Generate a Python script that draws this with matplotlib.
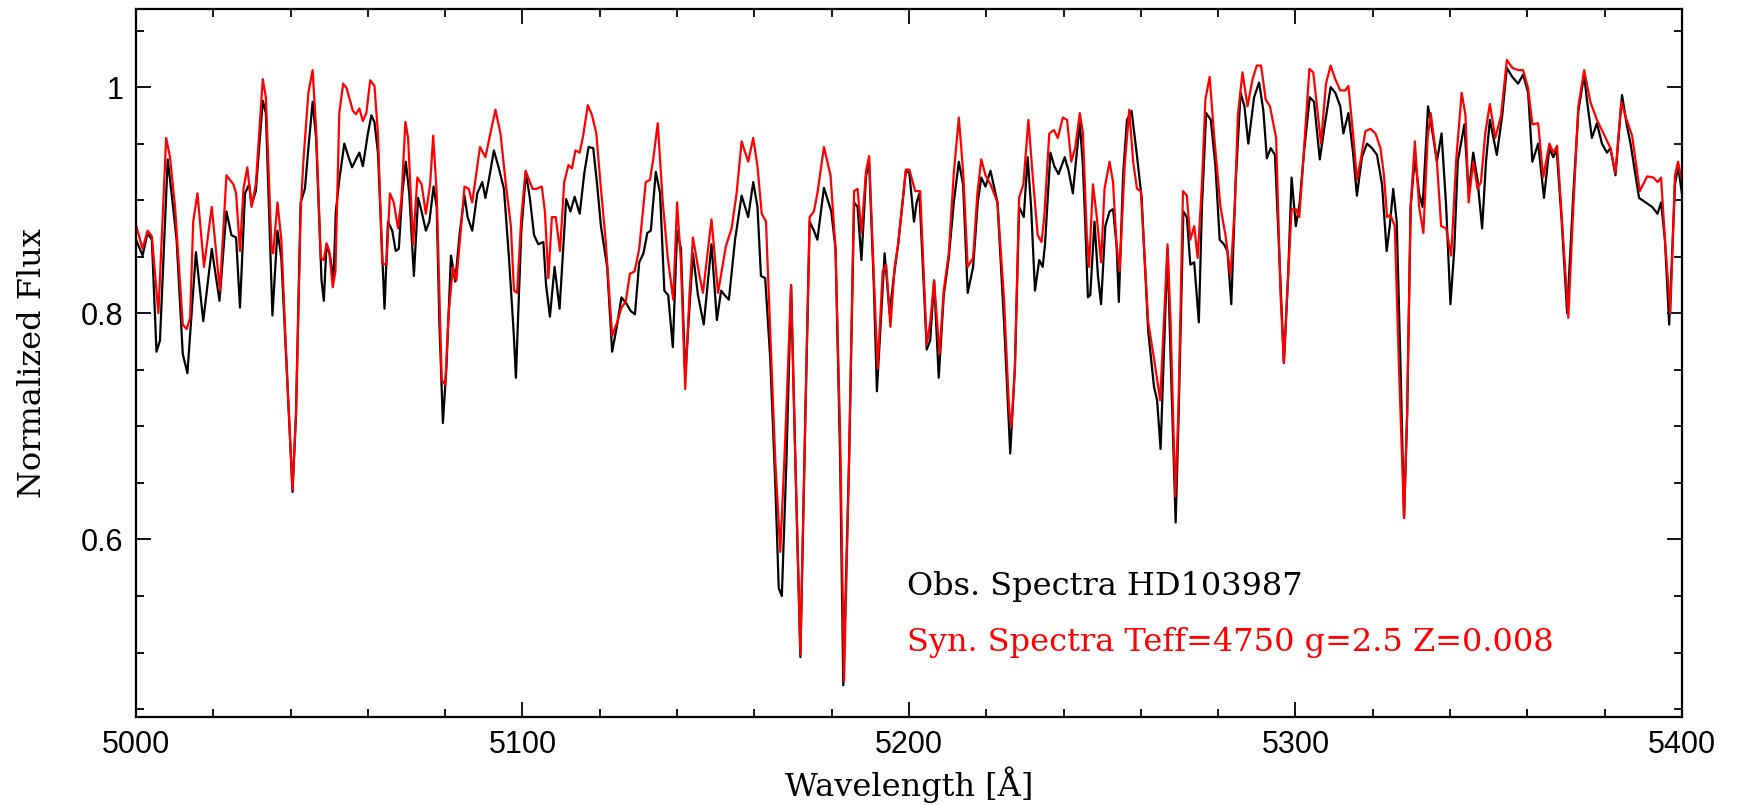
import numpy as np
import matplotlib
matplotlib.use("Agg")
from matplotlib import pyplot as plt
from matplotlib.ticker import MultipleLocator, FuncFormatter

obs_wave = [5000.0, 5001.7, 5003.0, 5004.1, 5005.3, 5006.2, 5008.2, 5009.2, 5010.5, 5012.1,
            5013.3, 5014.4, 5015.5, 5017.4, 5019.6, 5021.6, 5023.4, 5024.7, 5025.9, 5026.9,
            5028.2, 5029.3, 5029.9, 5031.0, 5032.8, 5033.6, 5035.3, 5036.6, 5037.6, 5039.0,
            5040.5, 5041.4, 5042.6, 5043.7, 5044.6, 5045.7, 5046.6, 5048.0, 5048.6, 5049.3,
            5050.2, 5051.1, 5051.7, 5052.6, 5053.9, 5055.0, 5055.9, 5056.9, 5057.8, 5058.7,
            5060.0, 5060.9, 5061.7, 5062.6, 5064.3, 5065.2, 5066.3, 5067.2, 5068.0, 5068.9,
            5069.8, 5070.7, 5071.9, 5073.0, 5073.9, 5075.0, 5075.9, 5077.0, 5077.8, 5078.5,
            5079.4, 5080.3, 5081.5, 5082.6, 5083.7, 5085.0, 5085.8, 5087.0, 5088.3, 5089.6,
            5090.4, 5091.3, 5092.6, 5093.9, 5095.2, 5096.5, 5097.7, 5098.3, 5098.9, 5099.7,
            5100.9, 5101.9, 5103.0, 5104.1, 5105.4, 5106.1, 5107.1, 5108.3, 5109.6, 5110.6,
            5111.3, 5112.4, 5113.5, 5114.8, 5116.0, 5117.1, 5118.3, 5119.3, 5120.3, 5121.9,
            5123.2, 5124.4, 5125.6, 5127.0, 5128.0, 5129.1, 5130.2, 5131.3, 5132.3, 5133.2,
            5134.5, 5135.6, 5136.7, 5137.7, 5138.9, 5140.0, 5141.0, 5142.1, 5144.1, 5145.4,
            5146.9, 5148.9, 5150.3, 5151.4, 5152.3, 5153.4, 5155.0, 5156.7, 5158.4, 5159.7,
            5160.8, 5161.7, 5162.8, 5164.1, 5165.4, 5166.3, 5167.1, 5168.3, 5169.5, 5170.6,
            5171.9, 5173.2, 5174.3, 5175.4, 5176.3, 5178.0, 5179.9, 5181.0, 5182.2, 5183.0,
            5184.5, 5185.8, 5186.7, 5187.7, 5188.9, 5189.7, 5190.9, 5191.7, 5192.7, 5193.7,
            5195.0, 5196.1, 5197.2, 5199.2, 5200.1, 5201.3, 5202.0, 5202.7, 5204.6, 5205.5,
            5206.5, 5207.7, 5209.0, 5210.3, 5211.6, 5212.9, 5214.0, 5215.2, 5216.6, 5217.8,
            5218.7, 5219.8, 5221.1, 5222.9, 5224.6, 5226.2, 5227.4, 5228.5, 5229.7, 5230.7,
            5231.6, 5232.6, 5233.7, 5234.6, 5235.2, 5236.6, 5237.6, 5238.7, 5240.3, 5241.3,
            5242.4, 5243.3, 5244.2, 5245.0, 5245.6, 5246.3, 5246.9, 5248.0, 5248.9, 5249.7,
            5250.8, 5251.9, 5252.8, 5253.7, 5254.3, 5255.4, 5256.4, 5257.6, 5258.9, 5260.2,
            5261.9, 5263.4, 5264.2, 5265.1, 5266.9, 5267.7, 5269.0, 5269.7, 5271.0, 5271.9,
            5272.8, 5273.8, 5275.0, 5275.8, 5276.9, 5278.1, 5279.3, 5280.4, 5281.5, 5282.4,
            5283.4, 5284.5, 5285.8, 5286.8, 5287.8, 5289.3, 5290.6, 5291.7, 5292.6, 5293.6,
            5294.7, 5296.1, 5297.0, 5298.1, 5299.0, 5300.1, 5301.1, 5302.2, 5303.7, 5304.8,
            5306.3, 5307.6, 5309.1, 5310.3, 5311.6, 5312.4, 5313.7, 5314.9, 5315.9, 5317.2,
            5318.5, 5319.8, 5321.1, 5322.4, 5323.6, 5324.4, 5325.3, 5326.2, 5327.2, 5328.1,
            5328.9, 5329.8, 5330.9, 5332.0, 5332.9, 5334.3, 5335.5, 5336.6, 5337.8, 5339.0,
            5340.1, 5341.1, 5342.0, 5343.7, 5344.8, 5346.0, 5347.1, 5348.3, 5349.3, 5350.3,
            5352.1, 5353.5, 5354.7, 5356.1, 5357.6, 5358.9, 5360.2, 5361.3, 5362.8, 5364.3,
            5365.7, 5366.7, 5367.6, 5368.9, 5370.3, 5371.9, 5373.2, 5374.7, 5375.4, 5376.7,
            5378.0, 5379.3, 5380.6, 5381.5, 5382.8, 5384.5, 5385.7, 5386.7, 5388.9, 5390.6,
            5392.3, 5393.7, 5394.6, 5395.6, 5396.7, 5398.2, 5399.0, 5400.0]
obs_flux = [0.865, 0.851, 0.871, 0.865, 0.766, 0.776, 0.936, 0.906, 0.865, 0.764,
            0.747, 0.800, 0.854, 0.793, 0.857, 0.811, 0.890, 0.869, 0.867, 0.805,
            0.906, 0.914, 0.896, 0.908, 0.988, 0.977, 0.798, 0.873, 0.849, 0.751,
            0.642, 0.711, 0.898, 0.910, 0.946, 0.987, 0.955, 0.829, 0.811, 0.861,
            0.851, 0.829, 0.890, 0.918, 0.950, 0.938, 0.929, 0.936, 0.942, 0.930,
            0.959, 0.975, 0.969, 0.942, 0.804, 0.881, 0.873, 0.855, 0.857, 0.906,
            0.934, 0.906, 0.833, 0.902, 0.890, 0.873, 0.881, 0.912, 0.894, 0.792,
            0.703, 0.751, 0.851, 0.828, 0.869, 0.904, 0.885, 0.873, 0.906, 0.916,
            0.902, 0.918, 0.944, 0.928, 0.910, 0.849, 0.784, 0.743, 0.800, 0.873,
            0.924, 0.902, 0.869, 0.861, 0.863, 0.825, 0.797, 0.841, 0.804, 0.861,
            0.901, 0.890, 0.903, 0.888, 0.924, 0.947, 0.946, 0.914, 0.877, 0.841,
            0.766, 0.788, 0.814, 0.808, 0.802, 0.799, 0.845, 0.853, 0.871, 0.873,
            0.925, 0.906, 0.820, 0.816, 0.770, 0.873, 0.857, 0.745, 0.853, 0.816,
            0.790, 0.861, 0.794, 0.820, 0.816, 0.812, 0.865, 0.904, 0.885, 0.916,
            0.894, 0.833, 0.831, 0.760, 0.650, 0.557, 0.550, 0.670, 0.825, 0.670,
            0.496, 0.711, 0.881, 0.873, 0.865, 0.911, 0.890, 0.857, 0.670, 0.471,
            0.670, 0.898, 0.894, 0.847, 0.922, 0.932, 0.825, 0.731, 0.792, 0.853,
            0.800, 0.833, 0.861, 0.926, 0.924, 0.881, 0.898, 0.906, 0.768, 0.776,
            0.829, 0.743, 0.816, 0.849, 0.898, 0.934, 0.914, 0.818, 0.841, 0.898,
            0.920, 0.912, 0.926, 0.898, 0.792, 0.676, 0.751, 0.894, 0.885, 0.938,
            0.894, 0.820, 0.847, 0.841, 0.861, 0.942, 0.930, 0.923, 0.938, 0.926,
            0.906, 0.938, 0.969, 0.930, 0.880, 0.814, 0.816, 0.881, 0.833, 0.808,
            0.877, 0.890, 0.892, 0.861, 0.810, 0.922, 0.971, 0.979, 0.942, 0.902,
            0.784, 0.735, 0.723, 0.680, 0.857, 0.760, 0.615, 0.700, 0.890, 0.885,
            0.843, 0.845, 0.792, 0.894, 0.977, 0.971, 0.930, 0.865, 0.861, 0.855,
            0.808, 0.914, 0.995, 0.983, 0.950, 0.991, 1.004, 0.979, 0.937, 0.946,
            0.940, 0.830, 0.756, 0.833, 0.920, 0.877, 0.898, 0.942, 0.991, 0.987,
            0.936, 0.967, 1.000, 0.995, 0.983, 0.959, 0.977, 0.942, 0.904, 0.938,
            0.950, 0.946, 0.940, 0.914, 0.855, 0.877, 0.910, 0.881, 0.751, 0.619,
            0.711, 0.894, 0.938, 0.906, 0.894, 0.983, 0.959, 0.934, 0.959, 0.894,
            0.808, 0.857, 0.934, 0.967, 0.906, 0.942, 0.918, 0.875, 0.934, 0.971,
            0.940, 0.975, 1.017, 1.009, 1.003, 1.011, 0.995, 0.934, 0.950, 0.902,
            0.946, 0.938, 0.944, 0.881, 0.800, 0.906, 0.979, 1.011, 0.989, 0.955,
            0.968, 0.950, 0.942, 0.946, 0.922, 0.993, 0.967, 0.950, 0.902, 0.898,
            0.894, 0.888, 0.898, 0.865, 0.790, 0.914, 0.930, 0.906]

## synthetic spectrum (Teff=4750, g=2.5, Z=0.008)
syn_wave = [5000.0, 5001.7, 5003.0, 5004.1, 5005.8, 5007.8, 5008.8, 5010.1, 5012.1, 5013.1,
            5014.0, 5014.8, 5015.9, 5017.6, 5019.6, 5021.7, 5023.4, 5025.2, 5025.9, 5026.9,
            5027.8, 5028.8, 5029.9, 5031.0, 5032.8, 5033.6, 5035.1, 5035.5, 5036.6, 5037.6,
            5039.0, 5040.5, 5041.4, 5042.6, 5043.3, 5044.6, 5045.7, 5046.6, 5047.8, 5048.6,
            5049.3, 5050.0, 5050.9, 5051.6, 5052.6, 5053.6, 5054.5, 5056.1, 5056.9, 5057.8,
            5058.7, 5059.6, 5060.6, 5061.7, 5062.6, 5063.7, 5064.8, 5065.7, 5066.7, 5067.8,
            5068.7, 5069.7, 5070.4, 5071.7, 5072.8, 5073.9, 5075.0, 5076.1, 5076.9, 5077.8,
            5079.1, 5080.0, 5080.9, 5082.0, 5082.9, 5083.9, 5085.0, 5086.1, 5087.0, 5089.0,
            5090.4, 5091.7, 5093.0, 5094.3, 5095.7, 5097.0, 5097.8, 5098.6, 5099.7, 5100.8,
            5102.6, 5103.6, 5105.0, 5105.8, 5106.7, 5107.6, 5108.6, 5109.7, 5110.8, 5111.9,
            5112.8, 5113.7, 5114.8, 5115.7, 5116.9, 5118.0, 5119.1, 5120.2, 5121.5, 5122.3,
            5123.2, 5124.5, 5125.6, 5126.7, 5127.8, 5129.0, 5130.2, 5131.9, 5133.0, 5133.9,
            5135.0, 5136.3, 5137.6, 5139.0, 5140.0, 5141.0, 5142.1, 5143.2, 5144.1, 5145.8,
            5146.7, 5148.9, 5150.6, 5152.6, 5154.1, 5155.4, 5156.7, 5158.4, 5159.7, 5160.8,
            5161.9, 5163.0, 5164.1, 5165.4, 5166.7, 5168.0, 5169.5, 5170.6, 5171.9, 5173.2,
            5174.3, 5175.4, 5176.3, 5178.0, 5179.7, 5181.0, 5182.2, 5183.2, 5184.5, 5185.8,
            5186.7, 5187.7, 5188.9, 5189.7, 5190.9, 5191.9, 5193.2, 5194.1, 5195.2, 5196.3,
            5197.2, 5199.2, 5200.1, 5201.6, 5202.9, 5204.6, 5205.5, 5206.5, 5207.9, 5209.0,
            5210.3, 5211.6, 5212.9, 5214.0, 5215.2, 5216.6, 5217.7, 5218.7, 5219.8, 5221.1,
            5222.9, 5224.6, 5225.9, 5226.5, 5227.4, 5228.5, 5229.6, 5230.9, 5232.0, 5233.3,
            5234.3, 5235.0, 5236.3, 5237.5, 5238.5, 5239.8, 5240.9, 5242.0, 5243.0, 5244.2,
            5245.0, 5246.0, 5246.6, 5247.6, 5248.6, 5249.7, 5250.6, 5251.9, 5252.8, 5253.7,
            5254.5, 5255.8, 5257.0, 5258.0, 5259.0, 5260.0, 5261.9, 5263.4, 5265.0, 5266.9,
            5267.7, 5268.9, 5269.7, 5270.9, 5271.9, 5272.8, 5273.8, 5274.7, 5275.8, 5276.7,
            5277.8, 5279.0, 5280.6, 5281.9, 5283.2, 5284.3, 5285.1, 5286.3, 5287.6, 5288.9,
            5290.0, 5291.1, 5292.3, 5293.4, 5295.0, 5296.1, 5297.0, 5298.1, 5299.0, 5300.1,
            5301.0, 5302.0, 5303.6, 5304.6, 5305.7, 5306.6, 5307.9, 5309.1, 5310.3, 5311.6,
            5312.9, 5313.7, 5314.9, 5315.9, 5316.9, 5318.1, 5319.4, 5320.7, 5322.0, 5322.9,
            5323.7, 5324.6, 5325.7, 5326.8, 5328.1, 5328.9, 5329.8, 5330.9, 5332.0, 5333.1,
            5334.2, 5335.0, 5336.6, 5337.7, 5339.0, 5340.3, 5341.6, 5343.0, 5344.0, 5344.8,
            5346.0, 5347.1, 5348.0, 5349.1, 5350.3, 5351.7, 5353.2, 5354.7, 5356.1, 5357.6,
            5358.9, 5360.2, 5361.3, 5362.8, 5364.1, 5365.7, 5366.7, 5367.7, 5368.9, 5370.6,
            5371.9, 5373.2, 5374.7, 5376.3, 5378.0, 5379.7, 5381.5, 5382.8, 5384.3, 5385.7,
            5387.1, 5389.1, 5391.0, 5392.6, 5393.7, 5394.6, 5395.6, 5397.0, 5398.2, 5399.0,
            5400.0]
syn_flux = [0.878, 0.857, 0.873, 0.868, 0.800, 0.955, 0.938, 0.894, 0.790, 0.786,
            0.796, 0.881, 0.906, 0.841, 0.894, 0.820, 0.922, 0.914, 0.906, 0.855,
            0.910, 0.929, 0.894, 0.914, 1.007, 0.991, 0.855, 0.853, 0.898, 0.865,
            0.751, 0.644, 0.711, 0.890, 0.934, 0.995, 1.015, 0.963, 0.849, 0.847,
            0.862, 0.855, 0.823, 0.837, 0.977, 1.003, 0.999, 0.979, 0.976, 0.981,
            0.970, 0.977, 1.006, 1.001, 0.959, 0.844, 0.843, 0.906, 0.898, 0.875,
            0.902, 0.969, 0.955, 0.861, 0.920, 0.914, 0.888, 0.914, 0.957, 0.906,
            0.741, 0.737, 0.800, 0.841, 0.829, 0.869, 0.912, 0.910, 0.898, 0.947,
            0.938, 0.959, 0.980, 0.959, 0.914, 0.877, 0.820, 0.818, 0.885, 0.926,
            0.910, 0.910, 0.912, 0.890, 0.831, 0.885, 0.885, 0.855, 0.916, 0.931,
            0.928, 0.944, 0.942, 0.957, 0.984, 0.975, 0.959, 0.914, 0.865, 0.825,
            0.780, 0.792, 0.805, 0.810, 0.835, 0.837, 0.857, 0.916, 0.918, 0.938,
            0.968, 0.898, 0.849, 0.812, 0.898, 0.845, 0.733, 0.816, 0.867, 0.833,
            0.818, 0.883, 0.818, 0.859, 0.875, 0.906, 0.952, 0.934, 0.955, 0.930,
            0.888, 0.881, 0.784, 0.670, 0.589, 0.690, 0.825, 0.670, 0.498, 0.711,
            0.885, 0.890, 0.906, 0.947, 0.922, 0.857, 0.690, 0.475, 0.670, 0.908,
            0.910, 0.871, 0.926, 0.939, 0.833, 0.751, 0.837, 0.843, 0.788, 0.841,
            0.861, 0.927, 0.927, 0.908, 0.908, 0.772, 0.792, 0.829, 0.764, 0.820,
            0.853, 0.924, 0.973, 0.926, 0.841, 0.849, 0.906, 0.936, 0.922, 0.914,
            0.898, 0.812, 0.715, 0.700, 0.751, 0.902, 0.914, 0.971, 0.922, 0.869,
            0.863, 0.885, 0.959, 0.962, 0.955, 0.973, 0.971, 0.934, 0.946, 0.977,
            0.960, 0.870, 0.841, 0.914, 0.885, 0.845, 0.910, 0.934, 0.916, 0.861,
            0.837, 0.930, 0.980, 0.934, 0.910, 0.908, 0.792, 0.760, 0.723, 0.861,
            0.792, 0.638, 0.711, 0.908, 0.904, 0.865, 0.877, 0.849, 0.914, 0.989,
            1.009, 0.955, 0.894, 0.869, 0.833, 0.894, 0.975, 1.013, 0.983, 1.007,
            1.019, 1.019, 0.989, 0.983, 0.955, 0.820, 0.756, 0.833, 0.892, 0.892,
            0.885, 0.934, 1.016, 1.013, 0.979, 0.950, 1.003, 1.019, 1.007, 0.997,
            0.997, 1.001, 0.959, 0.918, 0.936, 0.961, 0.963, 0.959, 0.946, 0.922,
            0.885, 0.887, 0.877, 0.751, 0.619, 0.711, 0.894, 0.952, 0.894, 0.871,
            0.955, 0.977, 0.934, 0.877, 0.875, 0.851, 0.936, 0.995, 0.975, 0.898,
            0.934, 0.910, 0.916, 0.959, 0.985, 0.955, 0.975, 1.024, 1.017, 1.015,
            1.015, 0.999, 0.967, 0.968, 0.920, 0.950, 0.942, 0.948, 0.885, 0.796,
            0.894, 0.983, 1.015, 0.987, 0.971, 0.959, 0.946, 0.924, 0.987, 0.971,
            0.957, 0.908, 0.921, 0.920, 0.916, 0.920, 0.865, 0.800, 0.922, 0.934,
            0.916]

obs_label = 'Obs. Spectra HD103987'
syn_label = 'Syn. Spectra Teff=4750 g=2.5 Z=0.008'

label_font = 'DejaVu Serif'
tick_font = 'Liberation Sans'

fig = plt.figure(figsize=(17.37, 8.05), dpi=100)
ax = fig.add_axes([0.0783, 0.1093, 0.8900, 0.8795])

ax.plot(obs_wave, obs_flux, color='black', lw=1.6)
ax.plot(syn_wave, syn_flux, color='#ff0000', lw=1.6)

ax.set_xlim(5000, 5400)
ax.set_ylim(0.443, 1.069)

ax.xaxis.set_major_locator(MultipleLocator(100))
ax.xaxis.set_minor_locator(MultipleLocator(20))
ax.yaxis.set_major_locator(MultipleLocator(0.2))
ax.yaxis.set_minor_locator(MultipleLocator(0.05))
ax.yaxis.set_major_formatter(FuncFormatter(lambda v, p: f'{v:g}'))

ax.tick_params(which='both', direction='in', top=True, right=True, width=1.3)
ax.tick_params(which='major', length=11, pad=9)
ax.tick_params(which='minor', length=5.5)
for lab in ax.get_xticklabels() + ax.get_yticklabels():
    lab.set_family(tick_font)
    lab.set_fontsize(22)
for sp in ax.spines.values():
    sp.set_linewidth(1.6)

ax.set_xlabel('Wavelength [Å]', family=label_font, fontsize=23, labelpad=5)
ax.set_ylabel('Normalized Flux', family=label_font, fontsize=23, labelpad=24)

ax.text(5199.5, 0.558, obs_label, color='black', family=label_font, fontsize=23, va='center')
ax.text(5199.5, 0.509, syn_label, color='#ff0000', family=label_font, fontsize=23, va='center')

fig.savefig('out.png', dpi=100)
